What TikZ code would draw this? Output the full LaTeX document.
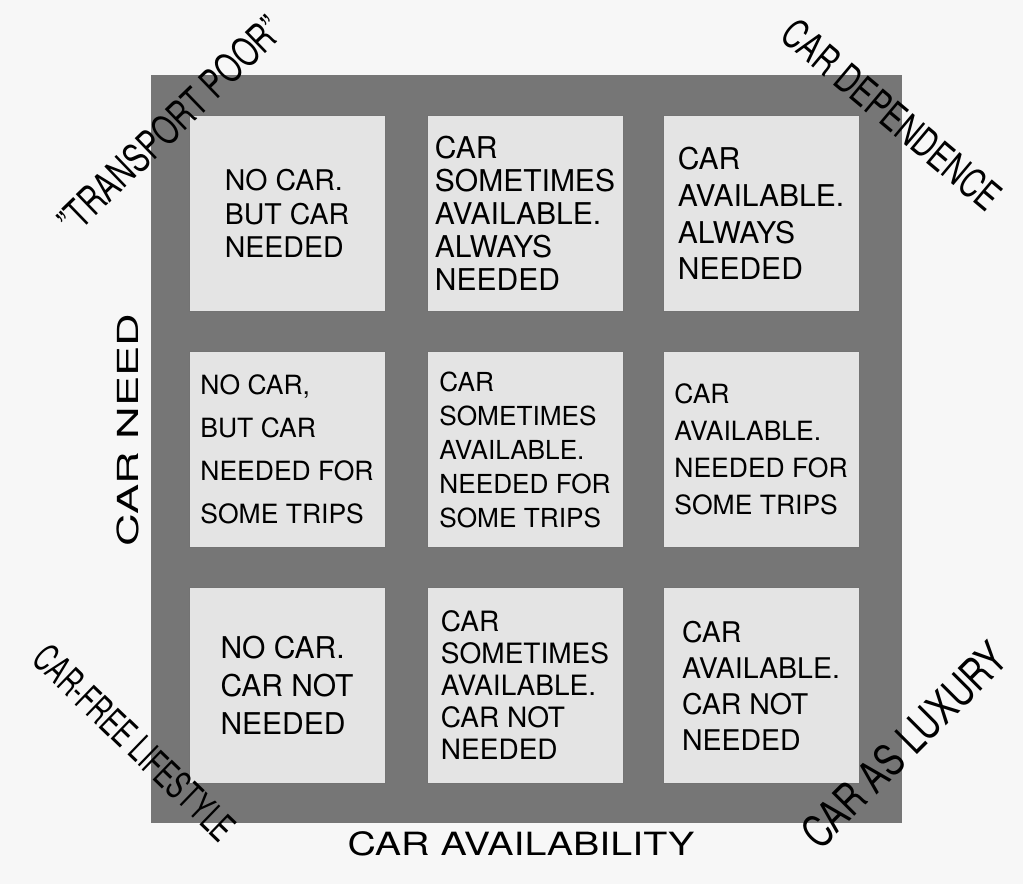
\documentclass[tikz,border=0pt]{standalone}
\usepackage{fontspec}
\setmainfont{TeX Gyre Heros}
\usepackage{tikz}
\usetikzlibrary{positioning}
\definecolor{paper}{RGB}{247,247,247}
\definecolor{panelgray}{RGB}{118,118,118}
\definecolor{cellgray}{RGB}{228,228,228}
\newcommand{\cellfont}[2]{\fontsize{#1}{#2}\selectfont}

\begin{document}
\begin{tikzpicture}[x=1pt, y=-1pt,
  cell/.style={draw=black!55, line width=0.8pt, fill=cellgray,
    minimum width=196pt, minimum height=196pt, inner sep=0pt, align=left},
  corner/.style={font=\cellfont{40}{44}, inner sep=0pt},
  axis/.style={inner sep=0pt}]
  % Page and shaded panel
  \fill[paper] (0,0) rectangle (1023,884);
  \useasboundingbox (0,0) rectangle (1023,884);
  \fill[panelgray] (151,75) rectangle (902,823);
  % Top row
  \node[cell, font=\cellfont{28.5}{33.5}] (c11) at (287,213.5) {NO CAR.\\BUT CAR\\NEEDED};
  \node[cell, font=\cellfont{30}{33}] (c12) at (525,213.5) {CAR\\SOMETIMES\\AVAILABLE.\\ALWAYS\\NEEDED};
  \node[cell, font=\cellfont{30}{36.7}] (c13) at (761,213.5) {CAR\\AVAILABLE.\\ALWAYS\\NEEDED};
  % Middle row
  \node[cell, font=\cellfont{26.5}{43}] (c21) at (287,449.5) {NO CAR,\\BUT CAR\\NEEDED FOR\\SOME TRIPS};
  \node[cell, font=\cellfont{26.2}{34}] (c22) at (525,449.5) {CAR\\SOMETIMES\\AVAILABLE.\\NEEDED FOR\\SOME TRIPS};
  \node[cell, font=\cellfont{26.5}{37}] (c23) at (761,449.5) {CAR\\AVAILABLE.\\NEEDED FOR\\SOME TRIPS};
  % Bottom row
  \node[cell, font=\cellfont{30}{38}] (c31) at (287,685.5) {NO CAR.\\CAR NOT\\NEEDED};
  \node[cell, font=\cellfont{28}{32}] (c32) at (525,685.5) {CAR\\SOMETIMES\\AVAILABLE.\\CAR NOT\\NEEDED};
  \node[cell, font=\cellfont{28.5}{36}] (c33) at (761,685.5) {CAR\\AVAILABLE.\\CAR NOT\\NEEDED};
  % Corner labels
  \node[corner, rotate=44, xscale=0.73] (poor) at (170,125) {"TRANSPORT POOR"};
  \node[corner, rotate=-40, xscale=0.73] (dependence) at (892,115) {CAR DEPENDENCE};
  \node[corner, font=\cellfont{38}{42}, rotate=-44, xscale=0.65] (carfree) at (135,743) {CAR-FREE LIFESTYLE};
  \node[corner, font=\cellfont{44}{48}, rotate=45, xscale=0.77] (luxury) at (904,745) {CAR AS LUXURY};
  % Axis labels
  \node[axis, font=\cellfont{32}{36}, xscale=1.23] (availability) at (521,843.5) {CAR AVAILABILITY};
  \node[axis, font=\cellfont{29}{32}, rotate=90, xscale=1.56] (need) at (128,430) {CAR NEED};
\end{tikzpicture}
\end{document}
